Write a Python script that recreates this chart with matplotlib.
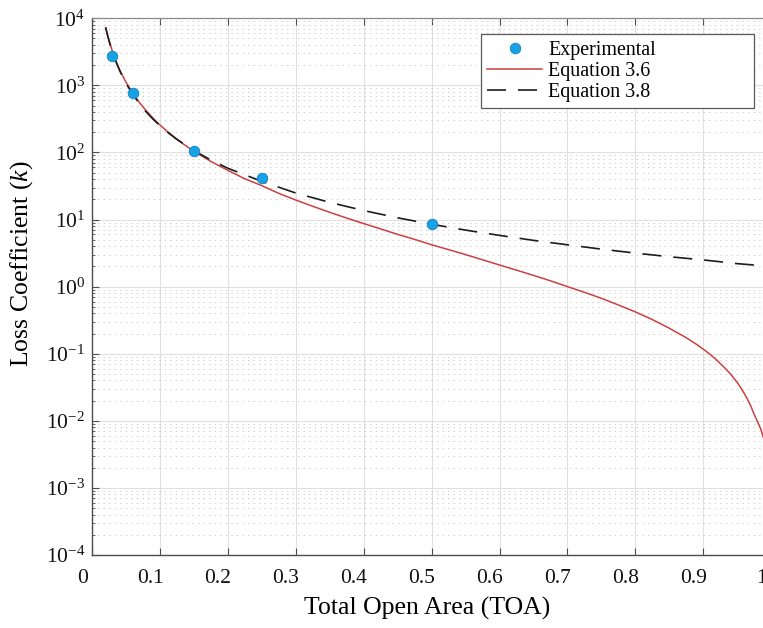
import numpy as np
import matplotlib
matplotlib.use("Agg")
import matplotlib.pyplot as plt
from matplotlib.ticker import LogLocator, LogFormatterMathtext, NullFormatter
from matplotlib.transforms import ScaledTranslation

# Measured loss coefficients
EXP_TOA = [0.03, 0.06, 0.15, 0.25, 0.50]
EXP_K = [2760, 760, 105, 42, 8.5]

# Equation 3.6
EQ36_TOA = [0.02, 0.0225, 0.025, 0.03, 0.035, 0.04, 0.045, 0.05, 0.06, 0.07,
            0.08, 0.09, 0.10, 0.11, 0.125, 0.135, 0.15, 0.175, 0.20, 0.225,
            0.25, 0.275, 0.30, 0.325, 0.35, 0.375, 0.40, 0.425, 0.45, 0.475,
            0.50, 0.525, 0.55, 0.575, 0.60, 0.625, 0.65, 0.675, 0.70, 0.725,
            0.75, 0.775, 0.80, 0.825, 0.85, 0.875, 0.89, 0.90, 0.91, 0.92,
            0.93, 0.94, 0.95, 0.955, 0.96, 0.965, 0.97, 0.975, 0.98, 0.985,
            0.99, 0.995]
EQ36_K = [7200, 5700, 4600, 3200, 2320, 1760, 1383, 1110, 760, 549,
          414, 321, 256, 208, 157, 132, 104, 73.4, 54, 40.4,
          32, 24.5, 19.5, 15.75, 12.8, 10.5, 8.7, 7.24, 6.0, 5.06,
          4.2, 3.56, 3.0, 2.51, 2.1, 1.76, 1.47, 1.22, 1.0, 0.823,
          0.67, 0.533, 0.42, 0.323, 0.24, 0.173, 0.138, 0.117, 0.098, 0.080,
          0.064, 0.050, 0.0372, 0.0314, 0.026, 0.0211, 0.0166, 0.0125, 0.0097, 0.0074,
          0.0050, 0.0022]

# Equation 3.8
EQ38_TOA = [0.02, 0.0225, 0.025, 0.03, 0.035, 0.04, 0.045, 0.05, 0.06, 0.07,
            0.08, 0.09, 0.10, 0.11, 0.125, 0.15, 0.175, 0.20, 0.25, 0.30,
            0.35, 0.40, 0.45, 0.50, 0.55, 0.60, 0.65, 0.70, 0.75, 0.80,
            0.85, 0.90, 0.95, 1.00]
EQ38_K = [7300, 5710, 4580, 3120, 2260, 1710, 1330, 1070, 730, 527,
          398, 311, 250, 204, 156, 106, 77, 58, 37, 24.8,
          18.0, 13.6, 10.6, 8.5, 6.95, 5.8, 4.89, 4.2, 3.62, 3.16,
          2.79, 2.5, 2.2, 2.0]

XTICKS = [0, 0.1, 0.2, 0.3, 0.4, 0.5, 0.6, 0.7, 0.8, 0.9, 1.0]
XTICK_LABELS = ["0", "0.1", "0.2", "0.3", "0.4", "0.5", "0.6", "0.7", "0.8", "0.9", "1"]

plt.rcParams["font.family"] = ["Liberation Serif", "DejaVu Serif"]
plt.rcParams["mathtext.fontset"] = "custom"
plt.rcParams["mathtext.rm"] = "Liberation Serif"
plt.rcParams["mathtext.it"] = "Liberation Serif:italic"
plt.rcParams["lines.scale_dashes"] = False


def main() -> None:
    fig = plt.figure(figsize=(7.63, 6.28), dpi=100)
    # axes run a little past the right edge of the figure
    ax = fig.add_axes([0.1207, 0.1162, 0.890, 0.8548])

    ax.plot(EQ36_TOA, EQ36_K, color="#cc4040", lw=1.1, label="Equation 3.6", zorder=3)
    ax.plot(EQ38_TOA, EQ38_K, color="#1c1c1c", lw=1.2, linestyle=(0, (13.7, 8.6)),
            label="Equation 3.8", zorder=4)
    ax.plot(EXP_TOA, EXP_K, linestyle="none", marker="o", markersize=7.6,
            markerfacecolor="#17a2e6", markeredgecolor="#1780bd", markeredgewidth=0.6,
            label="Experimental", zorder=5)

    ax.set_yscale("log")
    ax.set_xlim(0, 1)
    ax.set_ylim(1e-4, 1e4)

    ax.set_xticks(XTICKS, labels=XTICK_LABELS)
    ax.yaxis.set_major_locator(LogLocator(base=10, numticks=20))
    ax.yaxis.set_major_formatter(LogFormatterMathtext())
    ax.yaxis.set_minor_locator(LogLocator(base=10, subs=np.arange(2, 10), numticks=100))
    ax.yaxis.set_minor_formatter(NullFormatter())

    ax.tick_params(axis="both", which="major", direction="in", length=5, width=0.8,
                   colors="#4d4d4d", labelcolor="#111111", top=True, right=True)
    ax.tick_params(axis="y", which="minor", direction="in", length=2.2, width=0.6,
                   colors="#4d4d4d", right=True)
    ax.tick_params(axis="x", labelsize=15.5, pad=10)
    ax.tick_params(axis="y", labelsize=15.5, pad=5)

    # x tick labels sit slightly left of their ticks
    shift = ScaledTranslation(-10 / 100, 0, fig.dpi_scale_trans)
    for lbl in ax.get_xticklabels():
        lbl.set_transform(lbl.get_transform() + shift)

    ax.grid(True, which="major", color="#e0e0e0", lw=0.8, linestyle="-")
    ax.grid(True, which="minor", axis="y", color="#c6c6c6", lw=0.6,
            linestyle=(0, (1.0, 3.0)))
    ax.set_axisbelow(True)

    for side in ["left", "bottom"]:
        ax.spines[side].set_color("#4d4d4d")
        ax.spines[side].set_linewidth(1.0)
    ax.spines["top"].set_color("#8a8a8a")
    ax.spines["top"].set_linewidth(0.9)

    ax.set_xlabel("Total Open Area (TOA)", fontsize=18.5)
    ax.xaxis.set_label_coords(0.4932, -0.078)
    ax.set_ylabel("Loss Coefficient ($k$)", fontsize=18.5)
    ax.yaxis.set_label_coords(-0.0841, 0.542)

    handles, labels = ax.get_legend_handles_labels()
    order = [2, 0, 1]
    leg = ax.legend([handles[i] for i in order], [labels[i] for i in order],
                    loc="upper left", bbox_to_anchor=(0.5728, 0.0, 0.402, 0.970),
                    mode="expand", borderaxespad=0, fontsize=14.4, numpoints=1,
                    handlelength=2.75, handletextpad=0.3, labelspacing=0.1,
                    borderpad=0.32, fancybox=False, framealpha=1,
                    edgecolor="#5a5a5a")
    leg.get_frame().set_linewidth(0.9)

    fig.savefig("out.png", dpi=100)


if __name__ == "__main__":
    main()
